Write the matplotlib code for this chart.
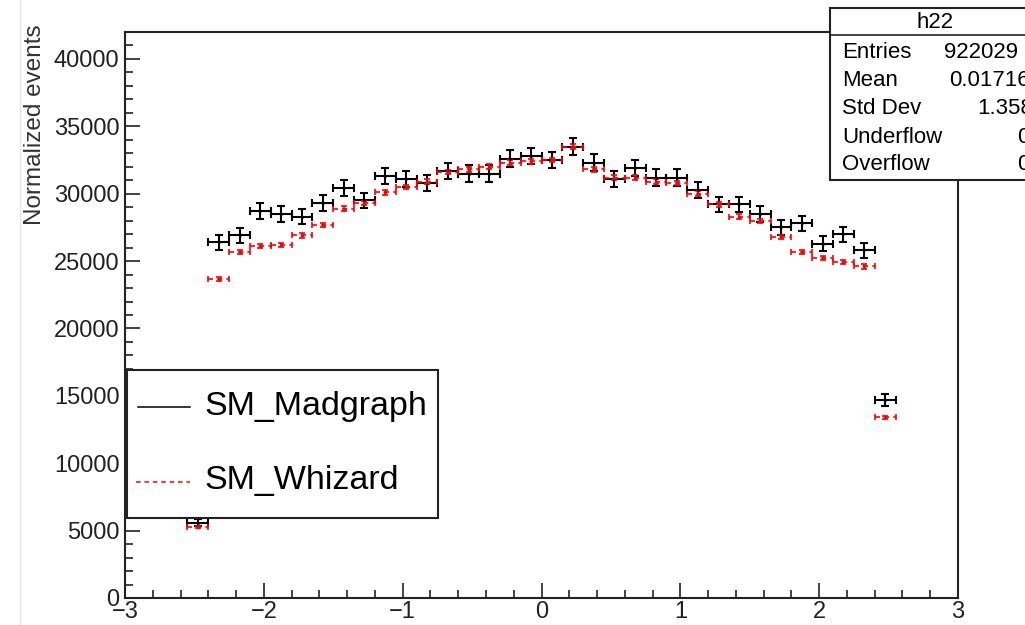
import matplotlib

matplotlib.use("Agg")
import matplotlib.pyplot as plt
from matplotlib.lines import Line2D
from matplotlib.patches import Rectangle
from matplotlib.ticker import MultipleLocator

plt.rcParams["font.family"] = ["Liberation Sans", "DejaVu Sans"]

# bin centres (bin width 0.15) and contents
x_centers = [-2.475, -2.325, -2.175, -2.025, -1.875, -1.725, -1.575, -1.425, -1.275,
             -1.125, -0.975, -0.825, -0.675, -0.525, -0.375, -0.225, -0.075, 0.075,
             0.225, 0.375, 0.525, 0.675, 0.825, 0.975, 1.125, 1.275, 1.425, 1.575,
             1.725, 1.875, 2.025, 2.175, 2.325, 2.475]
madgraph = [5600, 26400, 26900, 28700, 28500, 28300, 29300, 30400, 29500,
            31300, 31100, 30800, 31700, 31500, 31500, 32600, 32800, 32500,
            33500, 32300, 31100, 31900, 31200, 31200, 30300, 29200, 29200, 28500,
            27500, 27800, 26300, 27000, 25800, 14700]
madgraph_err = [260, 560, 560, 580, 580, 580, 590, 600, 590,
                610, 610, 600, 610, 610, 610, 620, 620, 620,
                630, 620, 610, 610, 610, 610, 600, 590, 590, 580,
                570, 570, 560, 560, 550, 420]
whizard = [5300, 23700, 25700, 26100, 26200, 26900, 27700, 28900, 29300,
           30100, 30500, 30900, 31600, 31800, 32000, 32300, 32400, 32500,
           33500, 31800, 31200, 31200, 30900, 30800, 30000, 29200, 28300, 28000,
           26800, 25700, 25200, 24900, 24600, 13400]
whizard_err = [70, 150, 150, 160, 160, 160, 160, 170, 170,
               170, 170, 170, 170, 170, 170, 170, 170, 170,
               180, 170, 170, 170, 170, 170, 170, 170, 160, 160,
               160, 150, 150, 150, 150, 110]
half_bin = 0.075

stats_labels = ["Entries", "Mean", "Std Dev", "Underflow", "Overflow"]
stats_values = ["922029", "0.01716", "1.358", "0", "0"]

W, H = 1025, 625


def fx(px):
    return px / W


def fy(py):
    return 1 - py / H


fig = plt.figure(figsize=(W / 100, H / 100), dpi=100)
ax = fig.add_axes([fx(125), fy(598), fx(958) - fx(125), fy(32) - fy(598)])

ax.errorbar(x_centers, madgraph, xerr=half_bin, yerr=madgraph_err, fmt=".",
            color="black", ms=2, elinewidth=1.5, capsize=3, capthick=1.5)
_, _, bars = ax.errorbar(x_centers, whizard, xerr=half_bin, yerr=whizard_err, fmt=".",
                         color="red", ms=3.5, elinewidth=1.2, capsize=2.5, capthick=1.2)
for lc in bars:
    lc.set_linestyle((0, (3, 2.5)))

ax.set_xlim(-3, 3)
ax.set_ylim(0, 42000)
ax.xaxis.set_major_locator(MultipleLocator(1))
ax.xaxis.set_minor_locator(MultipleLocator(0.2))
ax.yaxis.set_major_locator(MultipleLocator(5000))
ax.yaxis.set_minor_locator(MultipleLocator(1000))
ax.tick_params(which="both", direction="in", width=1.2, labelsize=17,
               color="#222222", labelcolor="#222222")
ax.tick_params(which="major", length=11)
ax.tick_params(which="minor", length=5.5)
ax.tick_params(axis="x", pad=2)
ax.tick_params(axis="y", pad=4)
for s in ax.spines.values():
    s.set_linewidth(1.5)
    s.set_color("#222222")

fig.text(fx(35), fy(24), "Normalized events", rotation=90, ha="center", va="top",
         fontsize=17.5, color="#333333")

# faint page border on the left
fig.add_artist(Line2D([fx(20), fx(20)], [0, 1], color="#e6e6e6", lw=1))

# legend box
fig.add_artist(Rectangle((fx(127), fy(518)), fx(438) - fx(127), fy(370) - fy(518),
                         facecolor="white", edgecolor="#222222", lw=1.5, zorder=5))
fig.add_artist(Line2D([fx(138), fx(190)], [fy(407), fy(407)], color="black", lw=1.1, zorder=6))
fig.add_artist(Line2D([fx(136), fx(190)], [fy(482), fy(482)], color="red", lw=1.1,
                      ls=(0, (3, 2.5)), zorder=6))
fig.text(fx(204), fy(407), "SM_Madgraph", fontsize=24.5, va="center", ha="left", zorder=7)
fig.text(fx(204), fy(481), "SM_Whizard", fontsize=24.5, va="center", ha="left", zorder=7)

# stats box
fig.add_artist(Rectangle((fx(830), fy(180)), fx(1045) - fx(830), fy(8) - fy(180),
                         facecolor="white", edgecolor="#222222", lw=1.5, zorder=5))
fig.add_artist(Line2D([fx(830), fx(1045)], [fy(35), fy(35)], color="#222222", lw=1.2, zorder=6))
fig.text(fx(935), fy(22), "h22", fontsize=16, ha="center", va="center", zorder=7)
row_y = [52, 80, 108, 137, 164]
value_x = [944, 949, 977, 1017, 1017]
for lab, val, yy, vx in zip(stats_labels, stats_values, row_y, value_x):
    fig.text(fx(842), fy(yy), lab, fontsize=16, ha="left", va="center", zorder=7)
    fig.text(fx(vx), fy(yy), val, fontsize=16, ha="left", va="center", zorder=7)

fig.savefig("out.png", dpi=100)
plt.close(fig)
